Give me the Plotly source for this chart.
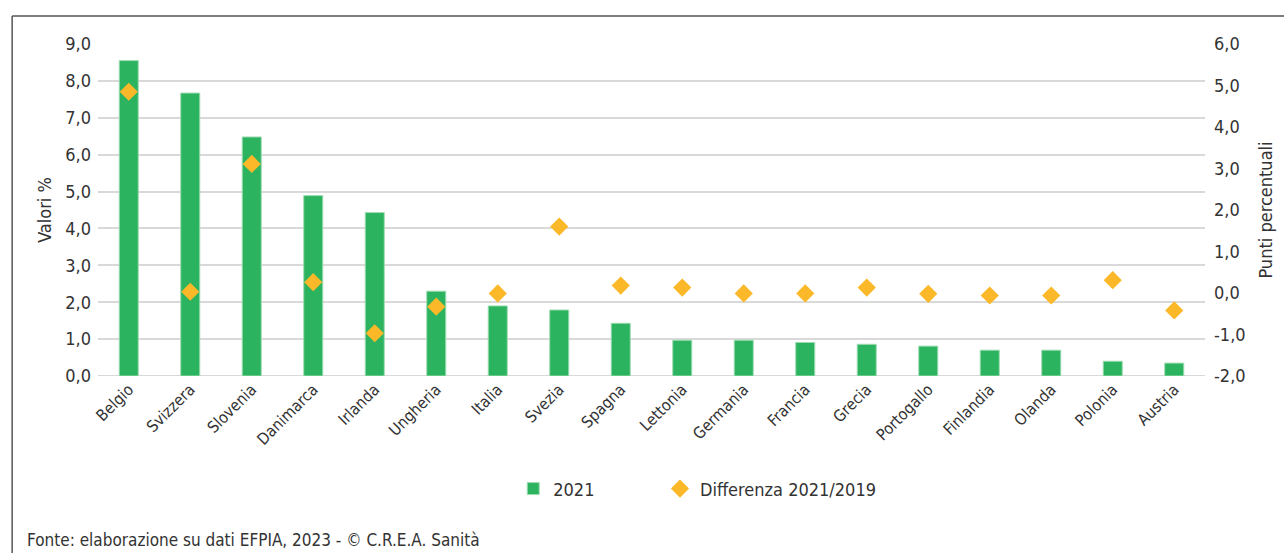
import plotly.graph_objects as go

# Dati
paesi = ['Belgio', 'Svizzera', 'Slovenia', 'Danimarca', 'Irlanda', 'Ungheria', 'Italia',
         'Svezia', 'Spagna', 'Lettonia', 'Germania', 'Francia', 'Grecia', 'Portogallo',
         'Finlandia', 'Olanda', 'Polonia', 'Austria']
valori_2021 = [8.55, 7.67, 6.48, 4.89, 4.43, 2.30, 1.90, 1.79, 1.43, 0.97, 0.97, 0.91,
               0.86, 0.81, 0.70, 0.70, 0.40, 0.35]
diff_2021_2019 = [4.85, 0.03, 3.11, 0.26, -0.97, -0.33, -0.01, 1.60, 0.18, 0.13, -0.01,
                  -0.01, 0.13, -0.02, -0.06, -0.06, 0.31, -0.42]
tick_sx = [0, 1, 2, 3, 4, 5, 6, 7, 8, 9]
tick_dx = [-2, -1, 0, 1, 2, 3, 4, 5, 6]

FONT = "Liberation Sans Narrow, DejaVu Sans Condensed, Arial Narrow, sans-serif"
TXT = '#333333'
W_PLOT = 1109
H_PLOT = 332

fig = go.Figure()
fig.add_trace(go.Bar(
    x=paesi, y=valori_2021, name='2021',
    marker=dict(color='#2bb35f', line=dict(color='#9fdcb3', width=1)),
    yaxis='y', legend='legend'
))
fig.add_trace(go.Scatter(
    x=paesi, y=diff_2021_2019, name='Differenza 2021/2019', mode='markers',
    marker=dict(symbol='diamond', size=14, color='#fbb829'),
    yaxis='y2', legend='legend2'
))

leg_common = dict(orientation='h', xanchor='left', y=-0.34, yanchor='middle',
                  font=dict(size=18), itemwidth=30, bgcolor='rgba(0,0,0,0)')

fig.update_layout(
    width=1284, height=553,
    margin=dict(l=98, r=77, t=44, b=177),
    plot_bgcolor='white', paper_bgcolor='white',
    font=dict(family=FONT, color=TXT, size=18),
    bargap=0.69,
    showlegend=True,
    legend=dict(x=(514 - 98) / W_PLOT, **leg_common),
    legend2=dict(x=(661 - 98) / W_PLOT, **leg_common),
    xaxis=dict(tickangle=-45, tickfont=dict(size=16), showgrid=False, showline=False,
               ticks='', range=[-0.5, len(paesi) - 0.5]),
    yaxis=dict(range=[0, 9], tickvals=tick_sx, ticktext=[f"{v},0" for v in tick_sx],
               showgrid=True, gridcolor='#d9d9d9', gridwidth=2, zeroline=False,
               showline=False, ticks='', ticklabelstandoff=6,
               title=dict(text='Valori %', font=dict(size=18), standoff=8)),
    yaxis2=dict(range=[-2, 6], overlaying='y', side='right', tickvals=tick_dx,
                ticktext=[f"{v},0" for v in tick_dx], showgrid=False, zeroline=False,
                showline=False, ticks='', ticklabelstandoff=8,
                title=dict(text='Punti percentuali', font=dict(size=18), standoff=14)),
)

# riga di base della scala sinistra
fig.add_shape(type='line', xref='paper', yref='y', x0=0, x1=1, y0=0, y1=0,
              line=dict(color='#d9d9d9', width=2), layer='below')

# cornice
fig.add_shape(type='line', xref='paper', yref='paper',
              x0=-86 / W_PLOT, x1=1.1, y0=1 + 28 / H_PLOT, y1=1 + 28 / H_PLOT,
              line=dict(color='#555555', width=1.5))
fig.add_shape(type='line', xref='paper', yref='paper',
              x0=-86 / W_PLOT, x1=-86 / W_PLOT, y0=1 + 28 / H_PLOT, y1=-0.6,
              line=dict(color='#555555', width=1.5))

fig.add_annotation(text='Fonte: elaborazione su dati EFPIA, 2023 - © C.R.E.A. Sanità',
                   xref='paper', yref='paper', x=-73 / W_PLOT, y=-164 / H_PLOT,
                   xanchor='left', yanchor='middle', showarrow=False,
                   font=dict(size=17, color=TXT))

fig.write_html("out.html", config={'displayModeBar': False},
               post_script="document.body.style.margin='0';")
